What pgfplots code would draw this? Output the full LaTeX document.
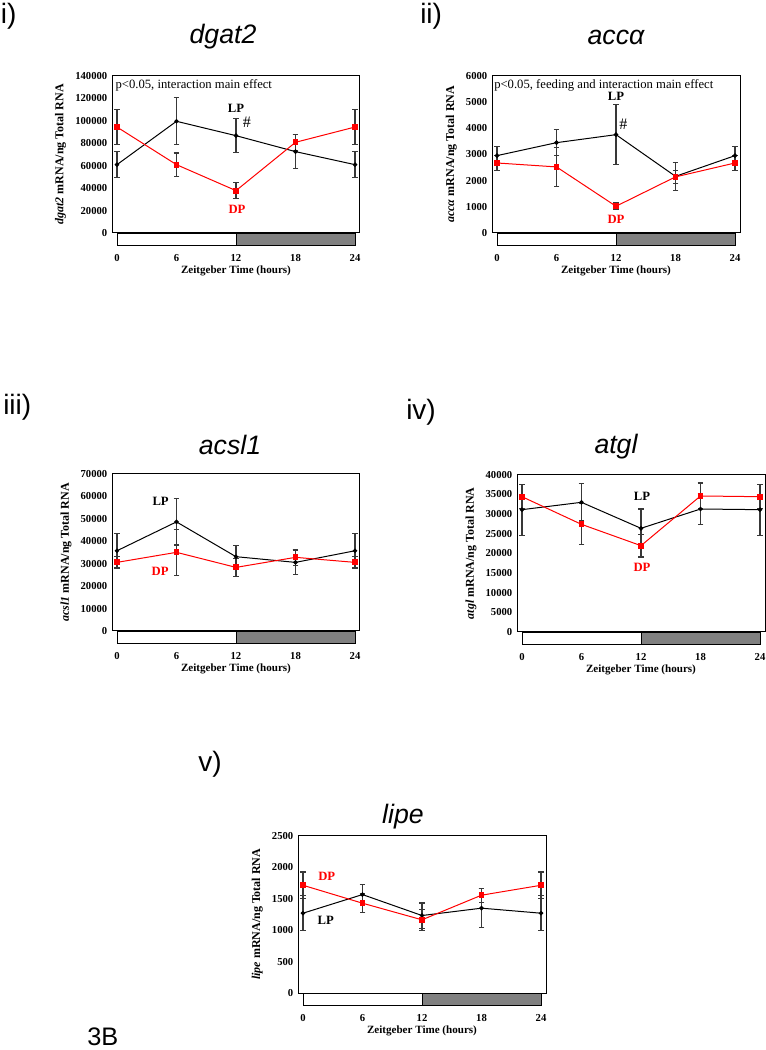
\documentclass[border=0pt]{standalone}
\usepackage{pgfplots}
\pgfplotsset{compat=1.18}
\usepackage{fontspec}
\setmainfont{Liberation Serif}
\newfontfamily\arial{Liberation Sans}

% light/dark bar under each panel
\newcommand{\ldbar}{%
  \draw[line width=0.6pt, fill=white] (axis cs:0,0) rectangle ([yshift=-9.5pt]axis cs:12,0);
  \draw[line width=0.6pt, fill=black!50] (axis cs:12,0) rectangle ([yshift=-9.5pt]axis cs:24,0);
}

\pgfplotsset{
  panel/.style={
    scale only axis, width=186pt, height=118pt, anchor=south west,
    xmin=-0.5, xmax=24.5, ymin=0,
    xtick={0,6,12,18,24},
    axis line style={line width=0.75pt},
    tick style={draw=none},
    ticklabel style={font=\fontsize{8}{9}\selectfont\bfseries},
    /pgf/number format/assume math mode=true,
    /pgf/number format/fixed,
    /pgf/number format/precision=0,
    /pgf/number format/1000 sep={},
    scaled y ticks=false,
    xticklabel style={anchor=center, yshift=-18.75pt},
    xlabel={Zeitgeber Time (hours)},
    xlabel style={font=\fontsize{8.3}{9}\selectfont\bfseries, at={(axis description cs:0.5,0)}, anchor=center, yshift=-28.5pt},
    ylabel style={font=\fontsize{9}{10}\selectfont\bfseries},
    clip=false,
  },
  lp/.style={black, line width=0.75pt, mark=*, mark size=1.3pt,
    error bars/.cd, y dir=both, y explicit,
    error bar style={black!78, line width=1.4pt},
    error mark options={rotate=90, black!78, mark size=2.1pt, line width=0.9pt}},
  dp/.style={red, line width=0.75pt, mark=square*, mark size=1.8pt,
    error bars/.cd, y dir=both, y explicit,
    error bar style={black!78, line width=1.4pt},
    error mark options={rotate=90, black!78, mark size=2.1pt, line width=0.9pt}},
}

\tikzset{grp/.style={font=\fontsize{9.5}{11}\selectfont\bfseries},
  note/.style={anchor=north west, inner sep=0pt, font=\fontsize{9.5}{11}\selectfont},
  ttl/.style={font=\arial\itshape\fontsize{20}{22}\selectfont},
  plab/.style={anchor=west, inner sep=0pt, font=\arial\fontsize{21}{23}\selectfont}}

\begin{document}
\begin{tikzpicture}
\path[use as bounding box] (0,0) rectangle (574.5pt,787.5pt);

% i) dgat2
\begin{axis}[panel, at={(84pt,612.75pt)}, ymax=140000,
  ytick={0,20000,...,140000},
  ylabel={\textit{dgat2} mRNA/ng Total RNA}]
\addplot[lp] coordinates {(0,60800) +- (0,11500) (6,99400) +- (0,21000) (12,86600) +- (0,15000) (18,72400) +- (0,15000) (24,60800) +- (0,11500)};
\addplot[dp] coordinates {(0,94300) +- (0,15500) (6,60800) +- (0,10400) (12,37700) +- (0,7000) (18,80700) +- (0,7000) (24,94300) +- (0,15500)};
\ldbar
\node[grp] at (axis cs:12,111200) {LP};
\node[font=\fontsize{12}{13}\selectfont] at (axis cs:13.1,98500) {\#};
\node[grp, red] at (axis cs:12.1,20800) {DP};
\node[note] at ([xshift=2.5pt, yshift=-2.5pt]rel axis cs:0,1) {p<0.05, interaction main effect};
\end{axis}

% ii) acc alpha
\begin{axis}[panel, at={(369pt,612.75pt)}, ymax=6000,
  ytick={0,1000,...,6000},
  ylabel={\textit{accα} mRNA/ng Total RNA}]
\addplot[lp] coordinates {(0,2950) +- (0,350) (6,3445) +- (0,490) (12,3750) +- (0,1150) (18,2160) +- (0,530) (24,2950) +- (0,350)};
\addplot[dp] coordinates {(0,2670) +- (0,300) (6,2520) +- (0,740) (12,1020) +- (0,130) (18,2140) +- (0,250) (24,2670) +- (0,300)};
\ldbar
\node[grp] at (axis cs:12,5210) {LP};
\node[font=\fontsize{12}{13}\selectfont] at (axis cs:12.75,4160) {\#};
\node[grp, red] at (axis cs:12,510) {DP};
\node[note] at ([xshift=1.5pt, yshift=-2.5pt]rel axis cs:0,1) {p<0.05, feeding and interaction main effect};
\end{axis}

% iii) acsl1
\begin{axis}[panel, at={(84pt,314.25pt)}, ymax=70000,
  ytick={0,10000,...,70000},
  ylabel={\textit{acsl1} mRNA/ng Total RNA}]
\addplot[lp] coordinates {(0,35700) +- (0,7600) (6,48550) +- (0,10300) (12,33060) +- (0,5000) (18,30530) +- (0,5500) (24,35700) +- (0,7600)};
\addplot[dp] coordinates {(0,30530) +- (0,2500) (6,35000) +- (0,10200) (12,28300) +- (0,4000) (18,32770) +- (0,3500) (24,30530) +- (0,2500)};
\ldbar
\node[grp] at (axis cs:4.4,57800) {LP};
\node[grp, red] at (axis cs:4.35,26500) {DP};
\end{axis}

% iv) atgl
\begin{axis}[panel, at={(387.75pt,313.5pt)}, ymax=40000,
  ytick={0,5000,...,40000},
  ylabel={\textit{atgl} mRNA/ng Total RNA}]
\addplot[lp] coordinates {(0,31100) +- (0,6500) (6,32970) +- (0,4750) (12,26360) +- (0,4900) (18,31270) +- (0,3900) (24,31100) +- (0,6500)};
\addplot[dp] coordinates {(0,34400) +- (0,3100) (6,27370) +- (0,5200) (12,21950) +- (0,2900) (18,34580) +- (0,3300) (24,34400) +- (0,3100)};
\ldbar
\node[grp] at (axis cs:12.1,34500) {LP};
\node[grp, red] at (axis cs:12.1,16500) {DP};
\end{axis}

% v) lipe
\begin{axis}[panel, at={(223.5pt,42.75pt)}, ymax=2500,
  ytick={0,500,...,2500},
  ylabel={\textit{lipe} mRNA/ng Total RNA}]
\addplot[lp] coordinates {(0,1268) +- (0,275) (6,1564) +- (0,160) (12,1231) +- (0,200) (18,1348) +- (0,310) (24,1268) +- (0,275)};
\addplot[dp] coordinates {(0,1712) +- (0,210) (6,1427) +- (0,150) (12,1163) +- (0,170) (18,1554) +- (0,110) (24,1712) +- (0,210)};
\ldbar
\node[grp, red] at (axis cs:2.4,1850) {DP};
\node[grp] at (axis cs:2.3,1147) {LP};
\end{axis}

% titles and panel labels
\node[ttl] at (167.25pt,759.75pt) {dgat2};
\node[ttl] at (462pt,759.75pt) {accα};
\node[ttl] at (172.5pt,453.75pt) {acsl1};
\node[ttl] at (462pt,452.25pt) {atgl};
\node[ttl] at (302.25pt,174.75pt) {lipe};
\node[plab] at (0.5pt,775.5pt) {i)};
\node[plab] at (315pt,775.5pt) {ii)};
\node[plab] at (2.25pt,482.25pt) {iii)};
\node[plab] at (304.5pt,478.5pt) {iv)};
\node[plab] at (148.5pt,214.5pt) {v)};
\node[plab, font=\arial\fontsize{19}{21}\selectfont] at (65.25pt,10pt) {3B};
\end{tikzpicture}
\end{document}
